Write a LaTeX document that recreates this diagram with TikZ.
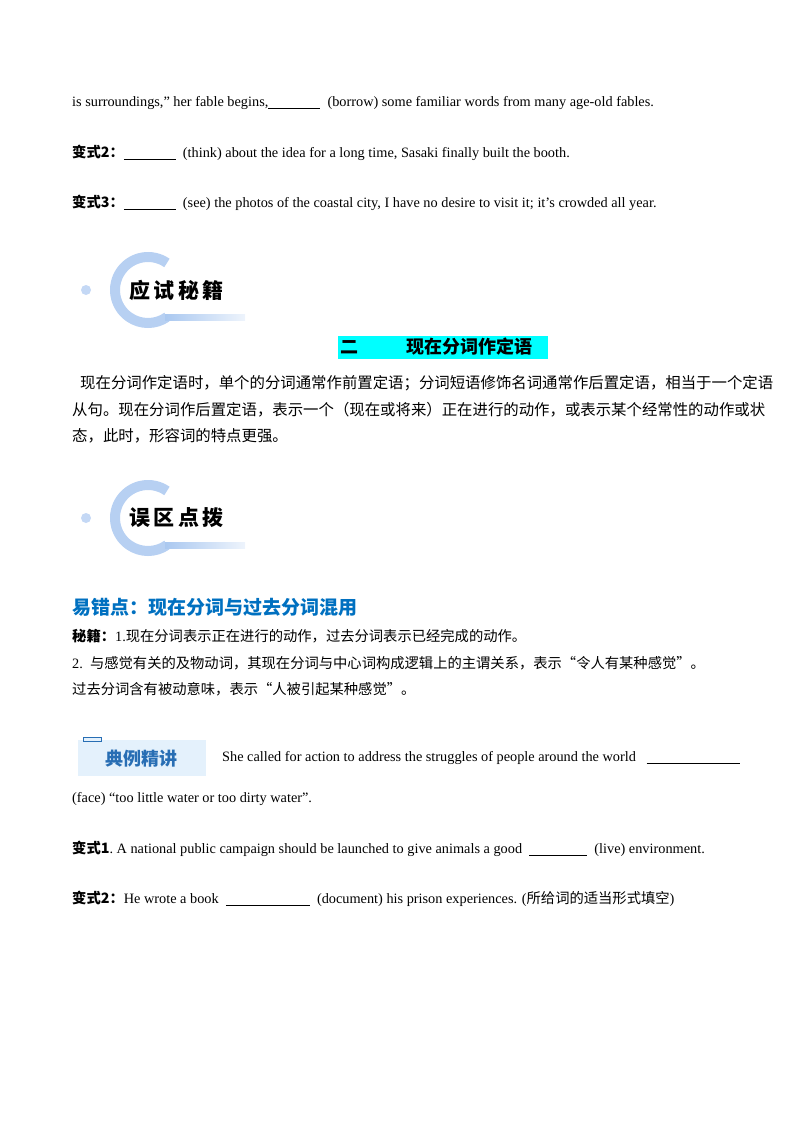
\documentclass[tikz,border=0pt]{standalone}
\usepackage{fontspec}
\setmainfont{Liberation Serif}
\newfontfamily\cjk{Noto Sans CJK SC}
\definecolor{hblue}{RGB}{0,112,192}
\definecolor{lblue}{RGB}{170,200,240}
\definecolor{cyanhl}{RGB}{0,255,255}
\definecolor{boxbg}{RGB}{228,241,252}
\definecolor{boxtx}{RGB}{40,110,180}
\newcommand{\blank}[1]{\rule[-2pt]{#1pt}{0.8pt}}
\tikzset{txt/.style={anchor=west,inner sep=0pt,font=\fontsize{14.3}{17}\selectfont},
 ctxt/.style={anchor=west,inner sep=0pt,font=\fontsize{15.4}{17}\cjk},
 badgetxt/.style={anchor=west,inner sep=0pt,font=\fontsize{21}{22}\cjk\bfseries}}
\begin{document}
\begin{tikzpicture}[x=1pt,y=-1pt]
\useasboundingbox (0,0) rectangle (800,1132);
\node[txt] (l1) at (72,103) {is surroundings,” her fable begins,\blank{52}\ \ (borrow) some familiar words from many age-old fables.};
\node[txt] (l2) at (72,153) {{\cjk\bfseries 变式2：}\blank{52}\ \ (think) about the idea for a long time, Sasaki finally built the booth.};
\node[txt] (l3) at (72,203) {{\cjk\bfseries 变式3：}\blank{52}\ \ (see) the photos of the coastal city, I have no desire to visit it; it’s crowded all year.};
% badge 1
\fill[lblue!70] (86,290) circle (5);
\draw[lblue!85,line width=10] (148,290) ++(-55:33) arc (-55:-305:33);
\shade[left color=lblue,right color=lblue!20] (165,314) rectangle (245,320);
\node[badgetxt] (b1) at (129,290) {应\,试\,秘\,籍};
% heading cyan
\fill[cyanhl] (338,336) rectangle (548,359);
\node[anchor=west,inner sep=0pt,font=\fontsize{18}{20}\cjk\bfseries] (h1) at (340,347) {二\hspace{48pt}现在分词作定语};
\node[ctxt] (p1) at (80,383) {现在分词作定语时，单个的分词通常作前置定语；分词短语修饰名词通常作后置定语，相当于一个定语};
\node[ctxt] (p2) at (72,410) {从句。现在分词作后置定语，表示一个（现在或将来）正在进行的动作，或表示某个经常性的动作或状};
\node[ctxt] (p3) at (72,436) {态，此时，形容词的特点更强。};
% badge 2
\fill[lblue!70] (86,518) circle (5);
\draw[lblue!85,line width=10] (148,518) ++(-55:33) arc (-55:-305:33);
\shade[left color=lblue,right color=lblue!20] (165,542) rectangle (245,548);
\node[badgetxt] (b2) at (129,518) {误\,区\,点\,拨};
\node[anchor=west,inner sep=0pt,text=hblue,font=\fontsize{19}{20}\cjk\bfseries] (h2) at (72,607) {易错点：现在分词与过去分词混用};
\node[txt] (s1) at (72,636) {{\cjk\bfseries 秘籍：}1.{\cjk 现在分词表示正在进行的动作，过去分词表示已经完成的动作。}};
\node[txt] (s2) at (72,663) {2.\ \ {\cjk 与感觉有关的及物动词，其现在分词与中心词构成逻辑上的主谓关系，表示“令人有某种感觉”。}};
\node[txt] (s3) at (72,689) {{\cjk 过去分词含有被动意味，表示“人被引起某种感觉”。}};
% example box
\fill[boxbg] (78,740) rectangle (206,776);
\draw[boxtx,fill=boxbg] (83,737) rectangle (101,741);
\node[anchor=center,inner sep=0pt,text=boxtx,font=\fontsize{18}{18}\cjk\bfseries] (ex) at (141,759) {典例精讲};
\node[txt] (e1) at (222,758) {She called for action to address the struggles of people around the world \ \ \blank{93}};
\node[txt] (e2) at (72,799) {(face) “too little water or too dirty water”.};
\node[txt] (v1) at (72,849) {{\cjk\bfseries 变式1}.\ A national public campaign should be launched to give animals a good \ \blank{58}\ \ (live) environment.};
\node[txt] (v2) at (72,899) {{\cjk\bfseries 变式2：}He wrote a book \ \blank{84}\ \ (document) his prison experiences. ({\cjk 所给词的适当形式填空})};
\end{tikzpicture}
\end{document}
